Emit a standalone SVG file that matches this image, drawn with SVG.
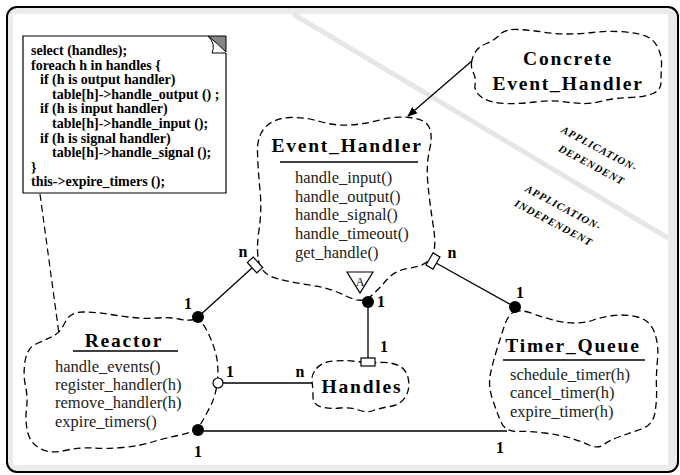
<svg xmlns="http://www.w3.org/2000/svg" width="680" height="475" viewBox="0 0 680 475">
<defs>
<style>
.cloud{fill:#fff;stroke:#000;stroke-width:1.3;stroke-dasharray:7 4}
.title{font-family:"Liberation Serif",serif;font-weight:bold;font-size:19.5px;letter-spacing:1.8px;text-anchor:middle;fill:#000}
.meth{font-family:"Liberation Serif",serif;font-size:16.5px;fill:#222}
.code{font-family:"Liberation Serif",serif;font-weight:bold;font-size:14px;fill:#000}
.lbl{font-family:"Liberation Serif",serif;font-weight:bold;font-size:16px;text-anchor:middle;fill:#000}
.app{font-family:"Liberation Serif",serif;font-weight:bold;font-style:italic;font-size:10.5px;letter-spacing:1px;text-anchor:middle;fill:#000}
.ln{stroke:#000;stroke-width:1.3;fill:none}
.mk{fill:#fff;stroke:#000;stroke-width:1.2}
</style>
<marker id="arr" viewBox="0 0 10 10" refX="9" refY="5" markerWidth="10" markerHeight="10" markerUnits="userSpaceOnUse" orient="auto">
<path d="M0,1 L10,5 L0,9 Z" fill="#000"/>
</marker>
</defs>

<g id="frame">
<rect x="7" y="7" width="671" height="465" rx="10" fill="#ebebeb" stroke="#000" stroke-width="2"/>
<rect x="13" y="14" width="655" height="451" fill="#fff"/>
<line x1="293" y1="14" x2="668" y2="238" stroke="#e6e6e6" stroke-width="5"/>
</g>

<g id="region-labels">
<text class="app" transform="translate(598,152) rotate(28)">APPLICATION-</text>
<text class="app" transform="translate(590,168) rotate(28)">DEPENDENT</text>
<text class="app" transform="translate(562,211) rotate(28)">APPLICATION-</text>
<text class="app" transform="translate(552,226) rotate(28)">INDEPENDENT</text>
</g>

<g id="code-note">
<path d="M226,53 V193 H23 V36 H208" fill="#fff" stroke="#000" stroke-width="1.2"/>
<path d="M208,36 L226,36 L226,52 Q217,43 208,36 Z" fill="#888" stroke="#000" stroke-width="1"/>
<path d="M208,36 Q216,44 212,53 L226,53" fill="none" stroke="#000" stroke-width="1"/>
<text class="code" x="31" y="55">select (handles);</text>
<text class="code" x="31" y="69.6">foreach h in handles {</text>
<text class="code" x="40" y="84.2">if (h is output handler)</text>
<text class="code" x="52" y="98.8">table[h]-&gt;handle_output () ;</text>
<text class="code" x="40" y="113.4">if (h is input handler)</text>
<text class="code" x="52" y="128">table[h]-&gt;handle_input ();</text>
<text class="code" x="40" y="142.6">if (h is signal handler)</text>
<text class="code" x="52" y="157.2">table[h]-&gt;handle_signal ();</text>
<text class="code" x="31" y="171.8">}</text>
<text class="code" x="31" y="186.4">this-&gt;expire_timers ();</text>
</g>

<g id="connectors">
<line x1="40" y1="194" x2="62" y2="356" stroke="#000" stroke-width="1.2" stroke-dasharray="7 4"/>
<line class="ln" x1="473" y1="60" x2="408" y2="116" marker-end="url(#arr)"/>
<line class="ln" x1="198" y1="317" x2="252" y2="268"/>
<line class="ln" x1="515" y1="307" x2="436" y2="263"/>
<line class="ln" x1="223" y1="383" x2="313" y2="383" stroke-width="1.5"/>
<line class="ln" x1="368" y1="302" x2="368" y2="358"/>
<line class="ln" x1="198" y1="431" x2="507" y2="431" stroke-width="2.2"/>
</g>

<g id="concrete-event-handler">
<path class="cloud" d="M 471.5,63 Q 472,58 475,52.5 Q 478,47 486.5,43.5 Q 495,40 500,34.5 Q 505,29 517.5,29.5 Q 530,30 542.5,32 Q 555,34 567.5,34 Q 580,34 592.5,32.5 Q 605,31 617.5,31.5 Q 630,32 641,34.5 Q 652,37 657,46 Q 662,55 661.5,65 Q 661,75 661,82.5 Q 661,90 653,93.5 Q 645,97 630,97.5 Q 615,98 602.5,101 Q 590,104 581.5,103.5 Q 573,103 561.5,101.5 Q 550,100 535,102 Q 520,104 505,103.5 Q 490,103 482,97.5 Q 474,92 475,85 Q 476,78 473.5,73 Q 471,68 471.5,63 Z"/>
<text class="title" x="568" y="65">Concrete</text>
<text class="title" x="568" y="90">Event_Handler</text>
</g>

<g id="event-handler">
<path class="cloud" d="M 433.5,227.5 Q 430,205 428,185 Q 426,165 429.5,150 Q 433,135 429,127 Q 425,119 410,117.5 Q 395,116 380,120 Q 365,124 350,125 Q 335,126 320,121.5 Q 305,117 290,117.5 Q 275,118 266,126.5 Q 257,135 257.5,152.5 Q 258,170 260,190 Q 262,210 259,230 Q 256,250 259,262.5 Q 262,275 278.5,279 Q 295,283 312.5,285.5 Q 330,288 346,296 Q 362,304 370,297 Q 378,290 386.5,280 Q 395,270 410,268 Q 425,266 431,258 Q 437,250 433.5,227.5 Z"/>
<text class="title" x="347" y="152">Event_Handler</text>
<line x1="280" y1="162" x2="418" y2="162" stroke="#000" stroke-width="1.5"/>
<text class="meth" x="295" y="183">handle_input()</text>
<text class="meth" x="295" y="202">handle_output()</text>
<text class="meth" x="295" y="220">handle_signal()</text>
<text class="meth" x="295" y="239">handle_timeout()</text>
<text class="meth" x="295" y="258">get_handle()</text>
<polygon points="347,272 373,272 360,293" fill="#fff" stroke="#000" stroke-width="1.2"/>
<text x="360" y="286" font-family="Liberation Serif, serif" font-size="12" text-anchor="middle" fill="#000">A</text>
</g>

<g id="reactor">
<path class="cloud" d="M 194,319.5 Q 200,318 206,329 Q 212,340 215.5,352.5 Q 219,365 217.5,380 Q 216,395 211,405 Q 206,415 201,423.5 Q 196,432 180.5,435 Q 165,438 152.5,442 Q 140,446 122.5,447.5 Q 105,449 92.5,448 Q 80,447 65,450.5 Q 50,454 40,448.5 Q 30,443 27.5,431.5 Q 25,420 26.5,408.5 Q 28,397 25.5,386 Q 23,375 25,361.5 Q 27,348 36,344 Q 45,340 52.5,336.5 Q 60,333 65,322.5 Q 70,312 82.5,312 Q 95,312 107.5,314 Q 120,316 132.5,317.5 Q 145,319 157.5,318 Q 170,317 179,319 Q 188,321 194,319.5 Z"/>
<text class="title" x="124" y="347">Reactor</text>
<line x1="73" y1="351" x2="178" y2="351" stroke="#000" stroke-width="1.5"/>
<text class="meth" x="55" y="372">handle_events()</text>
<text class="meth" x="55" y="390">register_handler(h)</text>
<text class="meth" x="55" y="408">remove_handler(h)</text>
<text class="meth" x="55" y="427">expire_timers()</text>
</g>

<g id="handles">
<path class="cloud" d="M 316.5,368.5 Q 322,362 333.5,361 Q 345,360 356.5,361.5 Q 368,363 380,362.5 Q 392,362 399.5,366 Q 407,370 408.5,380 Q 410,390 405,397.5 Q 400,405 390,406.5 Q 380,408 373.5,410.5 Q 367,413 358.5,410 Q 350,407 340,408 Q 330,409 321.5,407 Q 313,405 313,396.5 Q 313,388 312,381.5 Q 311,375 316.5,368.5 Z"/>
<text class="title" x="362" y="393">Handles</text>
</g>

<g id="timer-queue">
<path class="cloud" d="M 514,312 Q 520,309 532.5,313.5 Q 545,318 555,320.5 Q 565,323 575,323 Q 585,323 593.5,320 Q 602,317 613.5,315.5 Q 625,314 637.5,317 Q 650,320 654.5,332.5 Q 659,345 657.5,360 Q 656,375 656.5,387.5 Q 657,400 655,412.5 Q 653,425 641.5,429 Q 630,433 620,436.5 Q 610,440 604,444.5 Q 598,449 589,445 Q 580,441 570,438 Q 560,435 545,433 Q 530,431 517.5,431.5 Q 505,432 500.5,421 Q 496,410 492,397.5 Q 488,385 490.5,373.5 Q 493,362 497,349 Q 501,336 504.5,325.5 Q 508,315 514,312 Z"/>
<text class="title" x="573" y="352">Timer_Queue</text>
<line x1="503" y1="360" x2="645" y2="360" stroke="#000" stroke-width="1.5"/>
<text class="meth" x="510" y="380">schedule_timer(h)</text>
<text class="meth" x="510" y="398">cancel_timer(h)</text>
<text class="meth" x="510" y="417">expire_timer(h)</text>
</g>

<g id="end-markers">
<rect class="mk" x="-7" y="-4" width="14" height="8" transform="translate(255,265) rotate(47.6)"/>
<rect class="mk" x="-7" y="-4" width="14" height="8" transform="translate(433,261) rotate(-60)"/>
<rect class="mk" x="361" y="358" width="14" height="8"/>
<circle cx="198" cy="317" r="6" fill="#000"/>
<circle cx="198" cy="430" r="6" fill="#000"/>
<circle cx="368" cy="302" r="6" fill="#000"/>
<circle cx="515" cy="307" r="6" fill="#000"/>
<circle cx="218" cy="383" r="5" fill="#fff" stroke="#000" stroke-width="1.2"/>
</g>

<g id="multiplicities">
<text class="lbl" x="243" y="257">n</text>
<text class="lbl" x="188" y="309">1</text>
<text class="lbl" x="230" y="377">1</text>
<text class="lbl" x="300" y="377">n</text>
<text class="lbl" x="198" y="457">1</text>
<text class="lbl" x="452" y="258">n</text>
<text class="lbl" x="520" y="298">1</text>
<text class="lbl" x="381" y="307">1</text>
<text class="lbl" x="384" y="352">1</text>
<text class="lbl" x="500" y="453">1</text>
</g>
</svg>
